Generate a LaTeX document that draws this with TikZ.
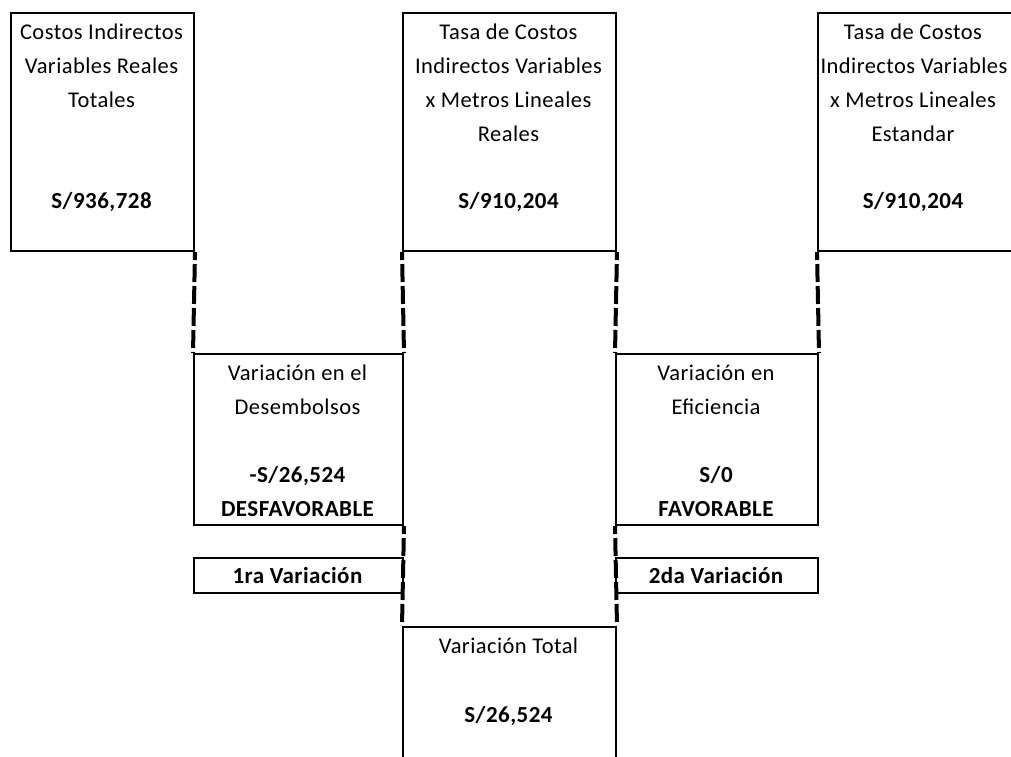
\documentclass[tikz,border=0pt]{standalone}
\usepackage{fontspec}
\setmainfont{Carlito}[LetterSpace=2]
\begin{document}
\begin{tikzpicture}[x=1pt,y=-1pt,
  box/.style={draw, line width=2pt, inner sep=0pt, anchor=north west},
  conn/.style={line width=4pt, dash pattern=on 18pt off 4pt, dash phase=10pt},
  txt/.style={font=\fontsize{22.5}{34}\selectfont, inner sep=0pt, anchor=base},
  val/.style={font=\fontsize{23}{33}\selectfont\bfseries, inner sep=0pt, anchor=base}]
\useasboundingbox (0,0) rectangle (1011,756);
\clip (0,0) rectangle (1011,756);
% boxes
\node[box, minimum width=183pt, minimum height=238pt] (A) at (10,12) {};
\node[box, minimum width=213pt, minimum height=238pt] (B) at (402,12) {};
\node[box, minimum width=213pt, minimum height=238pt] (C) at (817,12) {};
\node[box, minimum width=209pt, minimum height=171pt] (D) at (193,353) {};
\node[box, minimum width=202pt, minimum height=171pt] (E) at (615,353) {};
\node[box, minimum width=209pt, minimum height=35pt] (V1) at (193,557) {};
\node[box, minimum width=202pt, minimum height=35pt] (V2) at (615,557) {};
\node[box, minimum width=213pt, minimum height=150pt] (T) at (402,626) {};
% connectors
\draw[conn] (A.south east) -- (D.north west);
\draw[conn] (B.south west) -- (D.north east);
\draw[conn] (B.south east) -- (E.north west);
\draw[conn] (C.south west) -- (E.north east);
\draw[conn] (D.south east) -- (T.north west);
\draw[conn] (E.south west) -- (T.north east);
% texts box A
\node[txt] (a1) at (101.5,39) {Costos Indirectos};
\node[txt] (a2) at (101.5,73) {Variables Reales};
\node[txt] (a3) at (101.5,107) {Totales};
\node[val] (a4) at (101.5,208) {S/936,728};
% box B
\node[txt] (b1) at (508.5,39) {Tasa de Costos};
\node[txt] (b2) at (508.5,73) {Indirectos Variables};
\node[txt] (b3) at (508.5,107) {x Metros Lineales};
\node[txt] (b4) at (508.5,141) {Reales};
\node[val] (b5) at (508.5,208) {S/910,204};
% box C
\node[txt] (c1) at (913,39) {Tasa de Costos};
\node[txt] (c2) at (914,73) {Indirectos Variables};
\node[txt] (c3) at (913,107) {x Metros Lineales};
\node[txt] (c4) at (913,141) {Estandar};
\node[val] (c5) at (913,208) {S/910,204};
% box D
\node[txt] (d1) at (297.5,380) {Variación en el};
\node[txt] (d2) at (297.5,414) {Desembolsos};
\node[val] (d3) at (297.5,482) {-S/26,524};
\node[val] (d4) at (297.5,516) {DESFAVORABLE};
% box E
\node[txt] (e1) at (716,380) {Variación en};
\node[txt] (e2) at (716,414) {Eficiencia};
\node[val] (e3) at (716,482) {S/0};
\node[val] (e4) at (716,516) {FAVORABLE};
% variation labels
\node[val] (v1) at (297.5,583) {1ra Variación};
\node[val] (v2) at (716,583) {2da Variación};
% total
\node[txt] (t1) at (508.5,653) {Variación Total};
\node[val] (t2) at (508.5,722) {S/26,524};
\end{tikzpicture}
\end{document}
